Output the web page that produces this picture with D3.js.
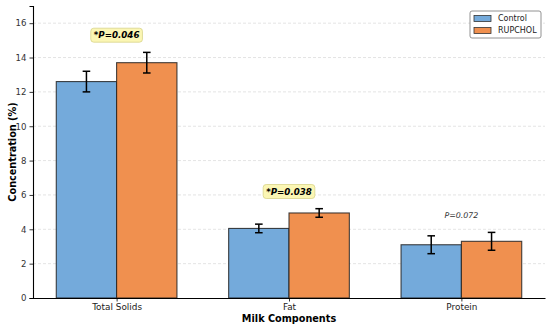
<!DOCTYPE html>
<html>
<head>
<meta charset="utf-8">
<script src="https://cdn.jsdelivr.net/npm/d3@7"></script>
<style>
  body { margin: 0; background: #fff; }
  svg text { font-family: "DejaVu Sans", sans-serif; }
</style>
</head>
<body>
<div id="chart"></div>
<script>
const categories = ['Total Solids', 'Fat', 'Protein'];
const groups = ['Control', 'RUPCHOL'];
const controlMeans = [12.6, 4.05, 3.1];
const controlErr = [0.6, 0.25, 0.52];
const rupcholMeans = [13.7, 4.95, 3.3];
const rupcholErr = [0.6, 0.25, 0.52];
const pLabels = ['*P=0.046', '*P=0.038', 'P=0.072'];
const pSignificant = [true, true, false];
const yTicks = [0, 2, 4, 6, 8, 10, 12, 14, 16];

const colors = { Control: '#74aadb', RUPCHOL: '#f0904f' };

const W = 550, H = 327;
const margin = { top: 6, right: 5, bottom: 29, left: 33 };
const width = W - margin.left - margin.right;
const height = H - margin.top - margin.bottom;

const svg = d3.select('#chart').append('svg')
  .attr('width', W).attr('height', H);
const g = svg.append('g')
  .attr('transform', `translate(${margin.left},${margin.top})`);

// category position in data units (0,1,2) like matplotlib
const barW = 0.35;
const x = d3.scaleLinear().domain([-0.485, 2.485]).range([0, width]);
const y = d3.scaleLinear().domain([0, 17]).range([height, 0]);

// grid
g.append('g')
  .selectAll('line')
  .data(yTicks.filter(d => d > 0))
  .join('line')
  .attr('x1', 0).attr('x2', width)
  .attr('y1', d => y(d)).attr('y2', d => y(d))
  .attr('stroke', '#d9d9d9')
  .attr('stroke-width', 0.7)
  .attr('stroke-dasharray', '3,2');

const series = [
  { name: 'Control', means: controlMeans, err: controlErr, offset: -barW / 2 },
  { name: 'RUPCHOL', means: rupcholMeans, err: rupcholErr, offset: barW / 2 }
];

series.forEach(s => {
  const data = categories.map((c, i) => ({ i, v: s.means[i], e: s.err[i] }));
  g.append('g').selectAll('rect')
    .data(data)
    .join('rect')
    .attr('x', d => x(d.i + s.offset - barW / 2))
    .attr('width', x(barW) - x(0))
    .attr('y', d => y(d.v))
    .attr('height', d => y(0) - y(d.v))
    .attr('fill', colors[s.name])
    .attr('stroke', '#222')
    .attr('stroke-opacity', 0.85)
    .attr('stroke-width', 1.1);

  const eb = g.append('g').selectAll('g')
    .data(data)
    .join('g')
    .attr('stroke', '#000')
    .attr('stroke-width', 1.5);
  eb.append('line')
    .attr('x1', d => x(d.i + s.offset)).attr('x2', d => x(d.i + s.offset))
    .attr('y1', d => y(d.v + d.e)).attr('y2', d => y(d.v - d.e));
  [1, -1].forEach(sign => {
    eb.append('line')
      .attr('x1', d => x(d.i + s.offset) - 3.8).attr('x2', d => x(d.i + s.offset) + 3.8)
      .attr('y1', d => y(d.v + sign * d.e)).attr('y2', d => y(d.v + sign * d.e));
  });
});

// p-value annotations
categories.forEach((c, i) => {
  const top = Math.max(controlMeans[i] + controlErr[i], rupcholMeans[i] + rupcholErr[i]) + 1;
  const cx = x(i), cy = y(top);
  const t = g.append('text')
    .attr('x', cx).attr('y', cy)
    .attr('text-anchor', 'middle')
    .attr('dominant-baseline', 'central')
    .attr('font-size', pSignificant[i] ? '8.7px' : '7.9px')
    .attr('font-style', 'italic')
    .attr('font-weight', pSignificant[i] ? 'bold' : 'normal')
    .attr('fill', pSignificant[i] ? '#000' : '#333')
    .text(pLabels[i]);
  if (pSignificant[i]) {
    const bb = t.node().getBBox();
    g.insert('rect', () => t.node())
      .attr('x', bb.x - 3).attr('y', bb.y - 2)
      .attr('width', bb.width + 6).attr('height', bb.height + 4)
      .attr('rx', 3)
      .attr('fill', '#fbf6b4')
      .attr('stroke', '#d8d48a')
      .attr('stroke-width', 0.8);
  }
});

// axes
const yAxis = g.append('g')
  .call(d3.axisLeft(y).tickValues(yTicks).tickSize(3.5).tickPadding(3));
yAxis.select('.domain').attr('stroke', '#000').attr('stroke-width', 1.1);
yAxis.selectAll('.tick line').attr('stroke', '#000').attr('stroke-width', 0.8);
yAxis.selectAll('text').attr('font-size', '8.6px').attr('fill', '#333').attr('font-family', 'DejaVu Sans');

const xAxis = g.append('g')
  .attr('transform', `translate(0,${height})`)
  .call(d3.axisBottom(x).tickValues([0, 1, 2]).tickFormat(i => categories[i]).tickSize(3.5).tickPadding(2).tickSizeOuter(0));
xAxis.select('.domain').attr('stroke', '#000').attr('stroke-width', 1.1);
xAxis.selectAll('.tick line').attr('stroke', '#000').attr('stroke-width', 0.8);
xAxis.selectAll('text').attr('font-size', '8.9px').attr('fill', '#222').attr('font-family', 'DejaVu Sans');

// axis titles
svg.append('text')
  .attr('x', margin.left + x(1)).attr('y', 322)
  .attr('text-anchor', 'middle')
  .attr('font-size', '9.7px').attr('font-weight', 'bold')
  .text('Milk Components');
svg.append('text')
  .attr('transform', `translate(12,${margin.top + height / 2}) rotate(-90)`)
  .attr('text-anchor', 'middle')
  .attr('dominant-baseline', 'central')
  .attr('font-size', '9.7px').attr('font-weight', 'bold')
  .text('Concentration (%)');

// legend
const lg = svg.append('g').attr('transform', 'translate(470,11)');
lg.append('rect')
  .attr('width', 71).attr('height', 27).attr('rx', 2)
  .attr('fill', '#fff').attr('fill-opacity', 0.9)
  .attr('stroke', '#777').attr('stroke-width', 0.8);
groups.forEach((name, i) => {
  const row = lg.append('g').attr('transform', `translate(4,${4 + i * 12})`);
  row.append('rect')
    .attr('width', 17).attr('height', 6).attr('y', 0.5)
    .attr('fill', colors[name]).attr('stroke', '#333').attr('stroke-width', 0.8);
  row.append('text')
    .attr('x', 24).attr('y', 3.5)
    .attr('dominant-baseline', 'central')
    .attr('font-size', '8px').attr('fill', '#222')
    .text(name);
});
</script>
</body>
</html>
